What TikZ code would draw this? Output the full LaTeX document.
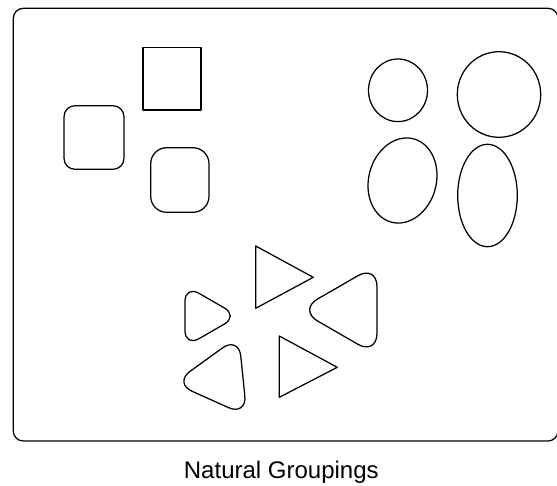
\documentclass[tikz,border=0pt]{standalone}
\usepackage{fontspec}
\setmainfont{Liberation Sans}
\begin{document}
\begin{tikzpicture}[x=1pt,y=-1pt,
  shape line/.style={draw=black,line width=1.25pt,line join=round},
  caption/.style={font=\fontsize{24}{28}\selectfont,anchor=base,inner sep=0pt}]
\useasboundingbox (0,0) rectangle (557,485);
% frame
\draw[shape line,rounded corners=10] (13.3,8.3) rectangle (558,441);
% squares
\draw[shape line] (143,47.3) rectangle (201,110);
\draw[shape line,rounded corners=11] (64,105.7) rectangle (124,169.3);
\draw[shape line,rounded corners=16] (150.7,147.7) rectangle (209,212.3);
% circles and ellipses
\draw[shape line] (398,90.3) ellipse [x radius=29.5,y radius=31.3];
\draw[shape line] (499,94.5) ellipse [x radius=41.7,y radius=42.8];
\draw[shape line,rotate around={-15:(402.5,180.5)}] (402.5,180.5) ellipse [x radius=33.8,y radius=43.1];
\draw[shape line] (487.5,195.5) ellipse [x radius=29.8,y radius=51.2];
% triangles
\draw[shape line] (255.7,246) -- (255.7,308.3) -- (313.3,277.3) -- cycle;
\draw[shape line] (279.3,336) -- (279.3,397.3) -- (337.3,367.3) -- cycle;
\draw[shape line,rounded corners=16] (185,285.25) -- (185,346.75) -- (238.3,316) -- cycle;
\draw[shape line,rounded corners=22] (377,264.7) -- (377,355.3) -- (298.5,310) -- cycle;
\draw[shape line,rounded corners=20] (238.7,336.2) -- (246.9,415.8) -- (173.8,383.1) -- cycle;
% caption
\node[caption] (title) at (281.3,478.3) {Natural Groupings};
\end{tikzpicture}
\end{document}
